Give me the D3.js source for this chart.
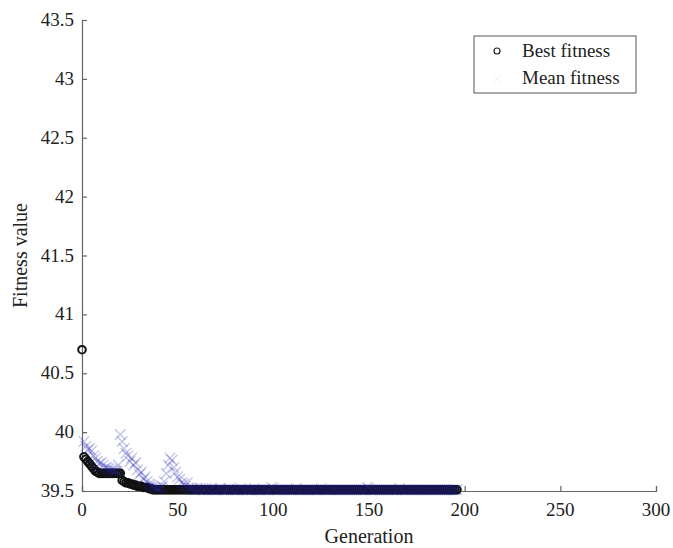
<!DOCTYPE html>
<html>
<head>
<meta charset="utf-8">
<script src="https://cdn.jsdelivr.net/npm/d3@7"></script>
<style>
  html, body { margin: 0; padding: 0; background: #ffffff; }
  svg { display: block; }
</style>
</head>
<body>
<svg id="chart" width="673" height="548"></svg>
<script>
// Genetic algorithm run: best and mean fitness per generation (0..196)
const bestFitness = [
  40.70, 39.79, 39.77, 39.75, 39.73, 39.71, 39.69, 39.67, 39.66, 39.65,
  39.65, 39.65, 39.65, 39.65, 39.65, 39.65, 39.65, 39.65, 39.65, 39.65,
  39.65, 39.59, 39.58, 39.57, 39.57, 39.56, 39.56, 39.55, 39.55, 39.54,
  39.54, 39.54, 39.53, 39.53, 39.53, 39.52, 39.52, 39.51, 39.51, 39.51,
  39.51, 39.51, 39.51, 39.51, 39.51, 39.51, 39.51, 39.51, 39.51, 39.51,
  39.51, 39.51, 39.51, 39.51, 39.51, 39.51, 39.51, 39.51, 39.51, 39.51,
  39.51, 39.51, 39.51, 39.51, 39.51, 39.51, 39.51, 39.51, 39.51, 39.51,
  39.51, 39.51, 39.51, 39.51, 39.51, 39.51, 39.51, 39.51, 39.51, 39.51,
  39.51, 39.51, 39.51, 39.51, 39.51, 39.51, 39.51, 39.51, 39.51, 39.51,
  39.51, 39.51, 39.51, 39.51, 39.51, 39.51, 39.51, 39.51, 39.51, 39.51,
  39.51, 39.51, 39.51, 39.51, 39.51, 39.51, 39.51, 39.51, 39.51, 39.51,
  39.51, 39.51, 39.51, 39.51, 39.51, 39.51, 39.51, 39.51, 39.51, 39.51,
  39.51, 39.51, 39.51, 39.51, 39.51, 39.51, 39.51, 39.51, 39.51, 39.51,
  39.51, 39.51, 39.51, 39.51, 39.51, 39.51, 39.51, 39.51, 39.51, 39.51,
  39.51, 39.51, 39.51, 39.51, 39.51, 39.51, 39.51, 39.51, 39.51, 39.51,
  39.51, 39.51, 39.51, 39.51, 39.51, 39.51, 39.51, 39.51, 39.51, 39.51,
  39.51, 39.51, 39.51, 39.51, 39.51, 39.51, 39.51, 39.51, 39.51, 39.51,
  39.51, 39.51, 39.51, 39.51, 39.51, 39.51, 39.51, 39.51, 39.51, 39.51,
  39.51, 39.51, 39.51, 39.51, 39.51, 39.51, 39.51, 39.51, 39.51, 39.51,
  39.51, 39.51, 39.51, 39.51, 39.51, 39.51, 39.51
];

// Mean fitness from generation 1 onward (generation 0 mean lies far above the range)
const meanFitness = [
         39.92, 39.88, 39.85, 39.86, 39.84, 39.80, 39.78, 39.75, 39.73,
  39.74, 39.72, 39.70, 39.70, 39.69, 39.68, 39.68, 39.67, 39.67, 39.72,
  39.98, 39.92, 39.86, 39.82, 39.80, 39.75, 39.78, 39.72, 39.74, 39.68,
  39.64, 39.66, 39.60, 39.62, 39.58, 39.56, 39.55, 39.54, 39.53, 39.53,
  39.52, 39.52, 39.54, 39.58, 39.65, 39.72, 39.78, 39.76, 39.70, 39.66,
  39.62, 39.60, 39.57, 39.56, 39.54, 39.57, 39.53, 39.52, 39.52, 39.51,
  39.52, 39.51, 39.52, 39.51, 39.51, 39.52, 39.51, 39.51, 39.52, 39.51,
  39.51, 39.51, 39.52, 39.51, 39.51, 39.51, 39.51, 39.52, 39.51, 39.51,
  39.51, 39.51, 39.51, 39.52, 39.51, 39.51, 39.51, 39.51, 39.51, 39.51,
  39.52, 39.51, 39.51, 39.51, 39.51, 39.51, 39.51, 39.51, 39.51, 39.53,
  39.52, 39.51, 39.51, 39.51, 39.51, 39.51, 39.51, 39.51, 39.51, 39.51,
  39.51, 39.51, 39.52, 39.51, 39.51, 39.51, 39.51, 39.51, 39.51, 39.51,
  39.51, 39.51, 39.51, 39.51, 39.51, 39.52, 39.51, 39.51, 39.51, 39.51,
  39.51, 39.51, 39.51, 39.51, 39.51, 39.51, 39.51, 39.51, 39.51, 39.51,
  39.51, 39.51, 39.51, 39.51, 39.51, 39.51, 39.51, 39.51, 39.51, 39.53,
  39.52, 39.51, 39.51, 39.51, 39.51, 39.51, 39.51, 39.51, 39.51, 39.51,
  39.51, 39.51, 39.51, 39.51, 39.51, 39.51, 39.52, 39.51, 39.51, 39.51,
  39.51, 39.51, 39.51, 39.51, 39.51, 39.51, 39.51, 39.51, 39.51, 39.51,
  39.51, 39.51, 39.51, 39.51, 39.51, 39.51, 39.51, 39.51, 39.51, 39.51,
  39.51, 39.51, 39.51, 39.51, 39.51, 39.51, 39.51
];

const xTicks = [0, 50, 100, 150, 200, 250, 300];
const yTicks = [39.5, 40, 40.5, 41, 41.5, 42, 42.5, 43, 43.5];
const legendLabels = ["Best fitness", "Mean fitness"];

const FONT = "Liberation Serif";
const svg = d3.select("#chart")
  .attr("font-family", FONT);
const margin = { left: 82, right: 17, top: 20, bottom: 57 };
const W = 673, H = 548;

const x = d3.scaleLinear().domain([0, 300]).range([margin.left, W - margin.right]);
const y = d3.scaleLinear().domain([39.5, 43.5]).range([H - margin.bottom, margin.top]);

const axisColor = "#666";
const textColor = "#222";

// Axes: ticks drawn inward, MATLAB style without a box
const gx = svg.append("g")
  .attr("transform", `translate(0,${y(39.5)})`)
  .call(d3.axisTop(x).tickValues(xTicks).tickSize(5).tickFormat(""));
gx.selectAll("path, line").attr("stroke", axisColor).attr("stroke-width", 1.2);

svg.append("g").selectAll("text").data(xTicks).join("text")
  .attr("x", d => x(d)).attr("y", y(39.5) + 25)
  .attr("text-anchor", "middle")
  .style("font-family", FONT)
  .attr("font-size", 19)
  .attr("fill", textColor)
  .text(d => d);

const gy = svg.append("g")
  .attr("transform", `translate(${x(0)},0)`)
  .call(d3.axisRight(y).tickValues(yTicks).tickSize(5).tickFormat(""));
gy.selectAll("path, line").attr("stroke", axisColor).attr("stroke-width", 1.2);

svg.append("g").selectAll("text").data(yTicks).join("text")
  .attr("x", x(0) - 8).attr("y", d => y(d) + 6)
  .attr("text-anchor", "end")
  .style("font-family", FONT)
  .attr("font-size", 19)
  .attr("fill", textColor)
  .text(d => d);

svg.append("text")
  .attr("x", (x(0) + x(300)) / 2).attr("y", H - 5)
  .attr("text-anchor", "middle")
  .style("font-family", FONT).attr("font-size", 20).attr("fill", textColor)
  .text("Generation");

svg.append("text")
  .attr("transform", `translate(27,${(y(39.5) + y(43.5)) / 2}) rotate(-90)`)
  .attr("text-anchor", "middle")
  .style("font-family", FONT).attr("font-size", 20).attr("fill", textColor)
  .text("Fitness value");

// Best fitness: open black circles
const plot = svg.append("g");
plot.selectAll("circle.best").data(bestFitness).join("circle")
  .attr("class", "best")
  .attr("cx", (d, i) => x(i))
  .attr("cy", d => y(d))
  .attr("r", 3.8)
  .attr("fill", "none")
  .attr("stroke", "#111")
  .attr("stroke-width", 2);

// Mean fitness: small blue crosses, generations 1..196
const cross = d3.symbol().type(d3.symbolTimes).size(75);
plot.selectAll("path.mean").data(meanFitness).join("path")
  .attr("class", "mean")
  .attr("transform", (d, i) => `translate(${x(i + 1)},${y(d)})`)
  .attr("d", cross)
  .attr("fill", "none")
  .attr("stroke", "#2222b0")
  .attr("stroke-width", 1.4)
  .attr("stroke-opacity", 0.26);

// Legend
const lg = svg.append("g").attr("transform", "translate(474,36)");
lg.append("rect")
  .attr("width", 162).attr("height", 57)
  .attr("fill", "#fff").attr("stroke", "#555").attr("stroke-width", 1);
lg.append("circle").attr("cx", 23).attr("cy", 15).attr("r", 3)
  .attr("fill", "none").attr("stroke", "#222").attr("stroke-width", 1.2);
lg.append("path").attr("transform", "translate(23,43)").attr("d", cross)
  .attr("fill", "none").attr("stroke", "#2222b0").attr("stroke-opacity", 0.06);
lg.selectAll("text").data(legendLabels).join("text")
  .attr("x", 48).attr("y", (d, i) => 21 + i * 27)
  .style("font-family", FONT)
  .attr("font-size", 19)
  .attr("fill", textColor)
  .text(d => d);
</script>
</body>
</html>
